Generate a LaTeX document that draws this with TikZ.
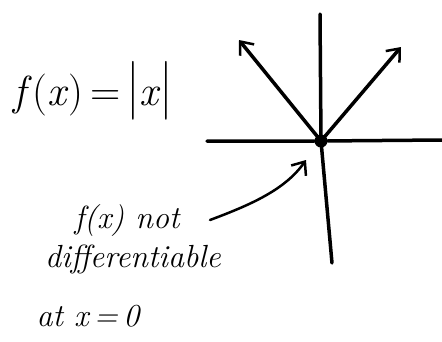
\documentclass[tikz,border=0pt]{standalone}
\usepackage{fontspec}
\usetikzlibrary{arrows.meta}
\begin{document}
\begin{tikzpicture}[x=1pt,y=-1pt,
  ink/.style={line width=3.5pt,line cap=round,line join=round,black},
  thinink/.style={line width=2.5pt,line cap=round,line join=round,black},
  vtip/.style={-{Straight Barb[length=11pt,width=18pt,line width=2.5pt]}},
  bigtext/.style={font=\fontsize{42}{46}\selectfont,inner sep=0pt,anchor=center},
  notetext/.style={font=\itshape\fontsize{32}{36}\selectfont,inner sep=0pt}]
\useasboundingbox (0,0) rectangle (442,341);
% equation
\node[bigtext] (eq) at (93,91) {\textit{f}(\textit{x})\,=\,\scalebox{1}[1.4]{|}\textit{x}\scalebox{1}[1.4]{|}};
% axes
\node[circle,fill=black,inner sep=0pt,minimum size=13pt] (o) at (321,141) {};
\coordinate (ytop) at (320,14);
\coordinate (ybot) at (332,263);
\coordinate (xl) at (207,141);
\coordinate (xr) at (442,140);
\coordinate (al) at (239,40);
\coordinate (ar) at (401,47);
\draw[ink] (xl) -- (o) -- (xr);
\draw[ink] (ytop) -- (o.center) -- (ybot);
\draw[ink,vtip] (o.center) -- (al);
\draw[ink,vtip] (o.center) -- (ar);
% note
\node[notetext] (note1) at (127,221) {f(x) not};
\node[notetext] (note2) at (133,259) {differentiable};
\node[notetext] (note3) at (88,316) {at x\,=\,0};
\coordinate (ns) at (210,220);
\coordinate (nt) at (306,160);
\draw[thinink,vtip] (ns) .. controls (250,205) and (285,190) .. (nt);
\end{tikzpicture}
\end{document}
